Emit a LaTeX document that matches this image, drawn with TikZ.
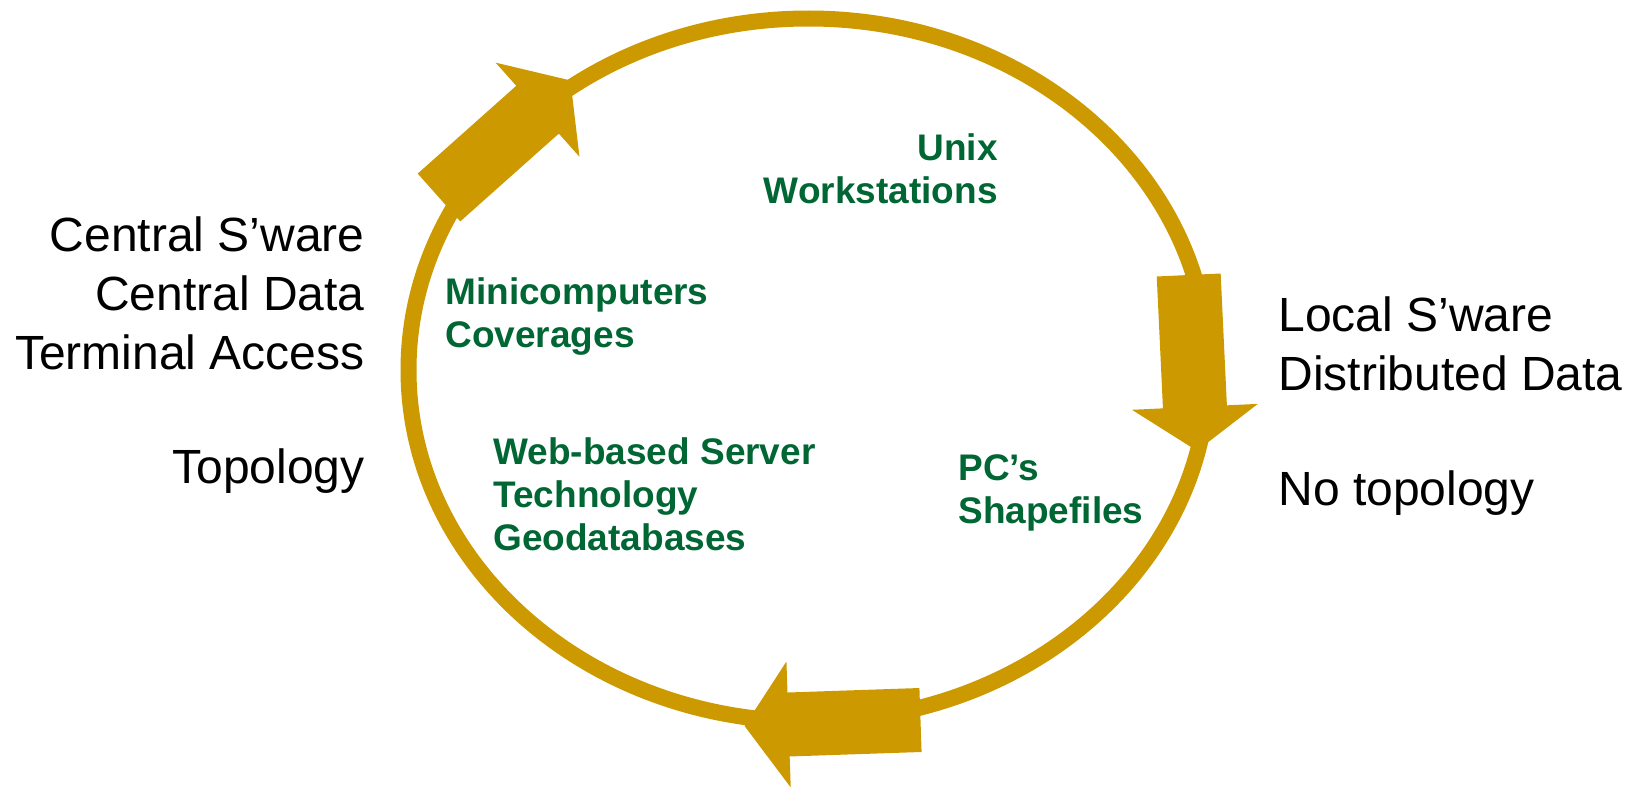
\documentclass[tikz,border=0pt]{standalone}
\usepackage{fontspec}
\setmainfont{Liberation Sans}
\usepackage{tikz}

\definecolor{ringgold}{RGB}{204,153,0}
\definecolor{stagegreen}{RGB}{0,102,51}

\tikzset{
	ring/.style={draw=ringgold, line width=8pt},
	blockarrow/.style={fill=ringgold},
	trait/.style={inner sep=0pt, font=\fontsize{24}{29.5}\selectfont},
	stage/.style={inner sep=0pt, text=stagegreen, font=\fontsize{18.5}{21.5}\selectfont\bfseries},
}

\begin{document}
\begin{tikzpicture}[x=0.5pt, y=-0.5pt]
	\useasboundingbox (0,0) rectangle (1635,787);
	
	\draw[ring] (808.5,370) ellipse [x radius=400, y radius=351.5];
	\foreach \tx/\ty/\ang in {439/197.5/41.7, 1188.7/275/-87.3, 920.5/720/181.95}
		\fill[blockarrow, shift={(\tx,\ty)}, rotate=\ang] (0,-32) -- (132,-32) -- (132,-63) -- (176,0) -- (132,63) -- (132,32) -- (0,32) -- cycle;
	
	\node[trait, anchor=base east, align=right] (central) at (365,369) {Central S’ware\\Central Data\\Terminal Access};
	\node[trait, anchor=base east] (topo) at (365,483) {Topology};
	\node[trait, anchor=base west, align=left] (local) at (1278,390) {Local S’ware\\Distributed Data};
	\node[trait, anchor=base west] (notopo) at (1278,505) {No topology};
	
	\node[stage, anchor=base east, align=right] (unix) at (998,203) {Unix\\Workstations};
	\node[stage, anchor=base west, align=left] (mini) at (445,347) {Minicomputers\\Coverages};
	\node[stage, anchor=base west, align=left] (web) at (493,550) {Web-based Server\\Technology\\Geodatabases};
	\node[stage, anchor=base west, align=left] (pc) at (958,523) {PC’s\\Shapefiles};
\end{tikzpicture}
\end{document}
